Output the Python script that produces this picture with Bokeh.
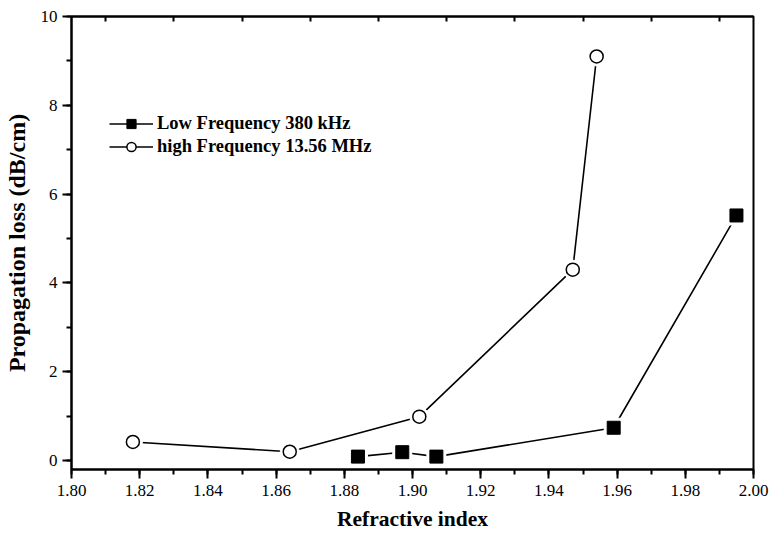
from bokeh.plotting import figure
from bokeh.models import (Range1d, SingleIntervalTicker, FixedTicker, NumeralTickFormatter,
                          LinearAxis, Legend, LegendItem, CustomJSTickFormatter)
from bokeh.embed import file_html
from bokeh.resources import INLINE

low_x = [1.884, 1.897, 1.907, 1.959, 1.995]
low_y = [0.09, 0.19, 0.09, 0.74, 5.52]
high_x = [1.818, 1.864, 1.902, 1.947, 1.954]
high_y = [0.42, 0.20, 0.99, 4.30, 9.10]
low_label = "Low Frequency 380 kHz"
high_label = "high Frequency 13.56 MHz"
x_title = "Refractive index"
y_title = "Propagation loss (dB/cm)"

FONT = "Liberation Serif"

p = figure(width=771, height=533, output_backend="svg", toolbar_location=None,
           x_range=Range1d(1.80, 2.00), y_range=Range1d(-0.2, 10.0),
           min_border_left=69, min_border_right=18, min_border_top=16, min_border_bottom=64)
p.background_fill_color = "white"
p.border_fill_color = "white"
p.grid.visible = False
p.outline_line_color = "black"
p.outline_line_width = 2

# axes
xa = p.xaxis[0]
xa.ticker = SingleIntervalTicker(interval=0.02, num_minor_ticks=2)
xa.formatter = NumeralTickFormatter(format="0.00")
ya = p.yaxis[0]
ya.ticker = SingleIntervalTicker(interval=2, num_minor_ticks=2)
for ax in (xa, ya):
    ax.axis_line_width = 2
    ax.major_tick_line_width = 2
    ax.minor_tick_line_width = 2
    ax.major_tick_out = 9
    ax.major_tick_in = 0
    ax.minor_tick_out = 5
    ax.minor_tick_in = 0
    ax.major_label_text_font = FONT
    ax.major_label_text_font_size = "17px"
    ax.major_label_text_color = "black"
    ax.axis_label_text_font = FONT
    ax.axis_label_text_font_style = "bold"
    ax.axis_label_text_color = "black"
xa.axis_label = x_title
ya.axis_label = y_title
xa.axis_label_text_font_size = "21.5px"
ya.axis_label_text_font_size = "24px"
xa.major_label_standoff = 6
ya.major_label_standoff = 5
xa.axis_label_standoff = 8
ya.axis_label_standoff = 8

top = LinearAxis(ticker=FixedTicker(ticks=[1.81, 1.83, 1.85, 1.87, 1.89, 1.91, 1.93, 1.95, 1.97, 1.99]),
                 formatter=CustomJSTickFormatter(code="return ''"),
                 major_tick_in=5, major_tick_out=0,
                 major_tick_line_width=2, minor_tick_line_color=None, axis_line_width=2)
p.add_layout(top, "above")

# lines
ll = p.line(low_x, low_y, line_color="black", line_width=1.6)
hl = p.line(high_x, high_y, line_color="black", line_width=1.6)
# white halos creating gaps between line and marker
p.scatter(low_x, low_y, marker="square", size=19, fill_color="white", line_color="white")
p.scatter(high_x, high_y, marker="circle", size=19, fill_color="white", line_color="white")
lm = p.scatter(low_x, low_y, marker="square", size=13, fill_color="black", line_color="black")
hm = p.scatter(high_x, high_y, marker="circle", size=13, fill_color="white", line_color="black", line_width=1.5)

legend = Legend(items=[LegendItem(label=low_label, renderers=[ll, lm]),
                       LegendItem(label=high_label, renderers=[hl, hm])],
                location=(38, 311), border_line_color=None, background_fill_alpha=0,
                padding=0, margin=0, spacing=0, glyph_width=44, glyph_height=23,
                label_height=23, label_standoff=4,
                label_text_font=FONT, label_text_font_style="bold",
                label_text_font_size="18.5px", label_text_color="black")
p.add_layout(legend)

open("out.html", "w").write(file_html(p, INLINE))
